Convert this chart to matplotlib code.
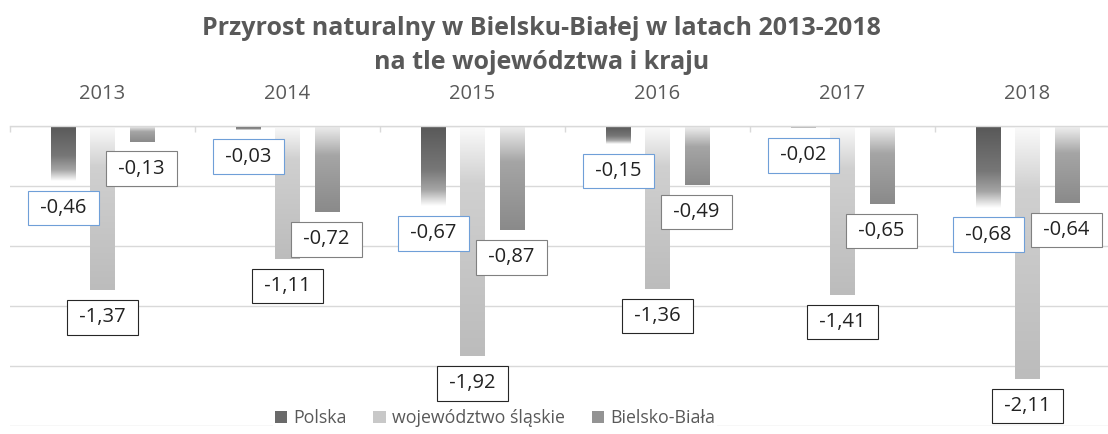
import numpy as np
import matplotlib
matplotlib.use("Agg")
import matplotlib.pyplot as plt
from matplotlib.colors import LinearSegmentedColormap
from matplotlib.patches import Patch

years = ["2013", "2014", "2015", "2016", "2017", "2018"]
series_names = ["Polska", "województwo śląskie", "Bielsko-Biała"]
polska = [-0.46, -0.03, -0.67, -0.15, -0.02, -0.68]
slaskie = [-1.37, -1.11, -1.92, -1.36, -1.41, -2.11]
bielsko = [-0.13, -0.72, -0.87, -0.49, -0.65, -0.64]
title_lines = ["Przyrost naturalny w Bielsku-Białej w latach 2013-2018",
               "na tle województwa i kraju"]

plt.rcParams['font.family'] = ['Open Sans', 'DejaVu Sans']

W, H = 1108, 434
fig = plt.figure(figsize=(W / 100, H / 100), dpi=100)
ax = fig.add_axes([10 / W, (H - 426) / H, 1110 / W, 300 / H])

ax.set_xlim(-0.5, 5.5)
ax.set_ylim(-2.5, 0)

cmaps = [
    LinearSegmentedColormap.from_list("p", [(0, "#585858"), (0.55, "#777777"), (0.8, "#a5a5a5"), (1, "#ffffff")]),
    LinearSegmentedColormap.from_list("s", [(0, "#fbfbfb"), (0.25, "#d0d0d0"), (1, "#bcbcbc")]),
    LinearSegmentedColormap.from_list("b", [(0, "#f0f0f0"), (0.35, "#a5a5a5"), (1, "#8a8a8a")]),
]
edge_cols = ["#6f9fd8", "#262626", "#808080"]
legend_cols = ["#6a6a6a", "#c8c8c8", "#939393"]

x = np.arange(len(years))
offsets = [-0.211, 0.0, 0.211]
bw = 0.13
grad = np.linspace(0, 1, 256).reshape(-1, 1)

for si, vals in enumerate([polska, slaskie, bielsko]):
    bars = ax.bar(x + offsets[si], vals, width=bw, color="none", edgecolor="none", zorder=2)
    for b, v in zip(bars, vals):
        x0 = b.get_x()
        im = ax.imshow(grad, cmap=cmaps[si], aspect="auto",
                       extent=[x0, x0 + bw, v, 0], origin="upper", zorder=2,
                       interpolation="bilinear")
        im.set_clip_path(b)
        lbl = " " + f"{v:.2f}".replace(".", ",") + " "
        ax.annotate(lbl, xy=(b.get_x() + bw / 2, v), xytext=(0, -27),
                    textcoords="offset pixels", ha="center", va="center",
                    fontsize=14.5, color="#222222", zorder=5,
                    bbox=dict(boxstyle="square,pad=0.36", fc="white",
                              ec=edge_cols[si], lw=0.8))

ax.set_xlim(-0.5, 5.5)
ax.set_ylim(-2.5, 0)

ax.set_yticks(np.arange(0, -2.51, -0.5))
ax.yaxis.grid(True, color="#d9d9d9", lw=1.0, zorder=0)
ax.tick_params(axis="y", length=0, labelleft=False)
for s in ["left", "right", "bottom"]:
    ax.spines[s].set_visible(False)
ax.spines["top"].set_color("#d9d9d9")
ax.spines["top"].set_linewidth(1.0)

ax.xaxis.tick_top()
ax.set_xticks(x)
ax.set_xticklabels(years, fontsize=14.5, color="#595959")
ax.tick_params(axis="x", which="major", length=0, pad=16)
ax.set_xticks(np.arange(-0.5, 5.6, 1.0), minor=True)
ax.tick_params(axis="x", which="minor", direction="in", length=4.5, color="#d9d9d9", width=1.0, top=True, bottom=False)
ax.set_axisbelow(True)

fig.text(0.489, (H - 35) / H, title_lines[0], ha="center", va="baseline",
         fontsize=18, fontweight="bold", color="#595959")
fig.text(0.489, (H - 69) / H, title_lines[1], ha="center", va="baseline",
         fontsize=18, fontweight="bold", color="#595959")

handles = [Patch(facecolor=c, edgecolor="none") for c in legend_cols]
leg = fig.legend(handles, series_names, loc="center", bbox_to_anchor=(495 / W, (H - 418) / H),
                 ncol=3, fontsize=12.8, frameon=True, facecolor="white", edgecolor="none",
                 framealpha=1, handlelength=0.7, handleheight=0.7, handletextpad=0.35,
                 columnspacing=1.5, borderpad=0.1, fancybox=False)
for t in leg.get_texts():
    t.set_color("#595959")

fig.savefig("out.png", dpi=100)
